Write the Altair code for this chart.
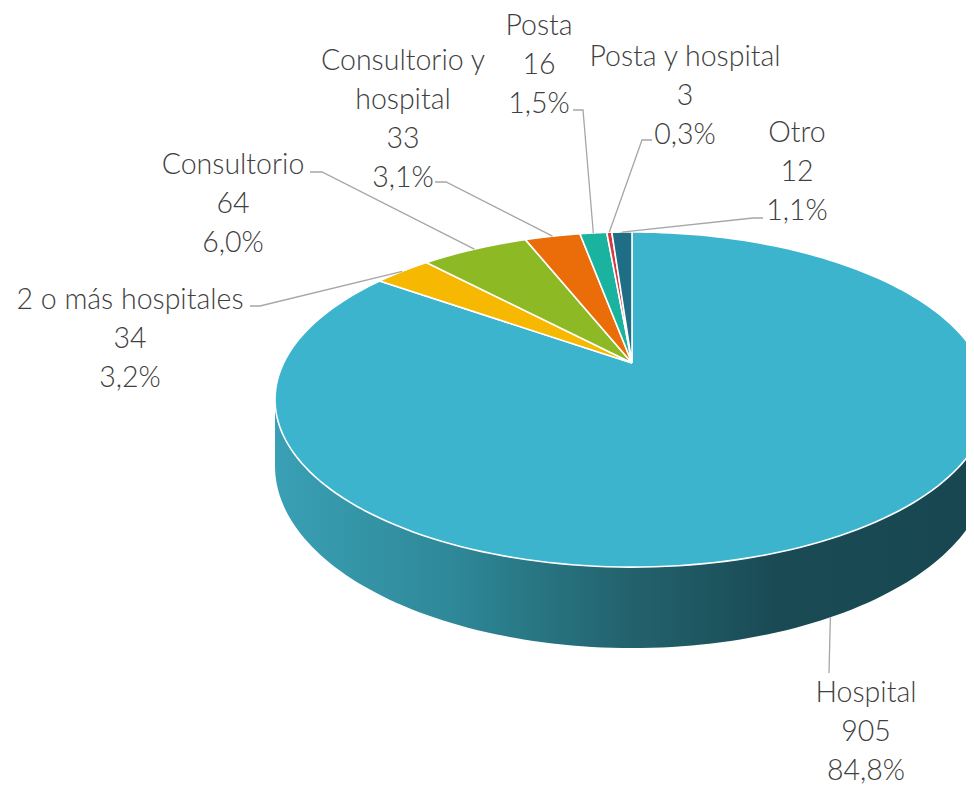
import math
import altair as alt
import pandas as pd

# ---------------- data ----------------
categories = ["Hospital", "2 o más hospitales", "Consultorio",
              "Consultorio y hospital", "Posta", "Posta y hospital", "Otro"]
counts = [905, 34, 64, 33, 16, 3, 12]
colors = ["#3DB4CE", "#F6B800", "#8CB924", "#EB6D0A", "#1AB39F", "#D9353F", "#1E6E85"]

# ---------------- layout (page pixels) ----------------
W, H = 958, 778
X0, Y0 = 8, 8
CX, CY = 632, 363          # projected pie centre
A, B, K = 348.4, 159.6, 0.218   # perspective ellipse parameters
D = 63.3                   # depth of the 3D wall
T0 = math.acos(-K)
T1 = 2 * math.pi - T0
N = 200

label_wrap = {"Consultorio y hospital": "Consultorio y\nhospital"}
label_first_line = {  # centre of the first text line (x, y)
    "Hospital": (866, 693),
    "2 o más hospitales": (130, 300),
    "Consultorio": (233, 165),
    "Consultorio y hospital": (403, 61),
    "Posta": (539, 26),
    "Posta y hospital": (685, 57),
    "Otro": (797, 133),
}
leader_anchor = {  # (x, y, stub_x)
    "Hospital": (829, 673, 829),
    "2 o más hospitales": (250, 306, 260),
    "Consultorio": (310, 172, 322),
    "Consultorio y hospital": (435, 182, 446),
    "Posta": (573, 110, 583),
    "Posta y hospital": (652, 140, 642),
    "Otro": (763, 218, 753),
}

total = sum(counts)
rows = []
for i, (c, v) in enumerate(zip(categories, counts)):
    pct = f"{v / total * 100:.1f}".replace(".", ",") + "%"
    name = label_wrap.get(c, c)
    rows.append({
        "cat": c, "value": v, "idx": i,
        "text": f"{name}\n{v}\n{pct}",
        "tx": label_first_line[c][0], "ty": label_first_line[c][1],
        "lx": leader_anchor[c][0], "ly": leader_anchor[c][1], "sx": leader_anchor[c][2],
    })
df = pd.DataFrame(rows)

xs = alt.Scale(domain=[X0, X0 + W], nice=False, zero=False)
ys = alt.Scale(domain=[Y0, Y0 + H], nice=False, zero=False, reverse=True)

base = (
    alt.Chart(df)
    .transform_joinaggregate(total="sum(value)")
    .transform_window(cum="sum(value)", sort=[alt.SortField("idx")], frame=[None, 0])
    .transform_calculate(
        a0="2*PI*(datum.cum - datum.value)/datum.total",
        a1="2*PI*datum.cum/datum.total",
    )
    .transform_calculate(am="(datum.a0 + datum.a1)/2")
)

def px(t):
    return f"{CX} + {A}*sin({t})/(1 + {K}*cos({t}))"

def py(t):
    return f"{CY} - {B}*cos({t})/(1 + {K}*cos({t}))"

# side wall
side = (
    base.transform_filter(f"datum.a1 > {T0} && datum.a0 < {T1}")
    .transform_calculate(s0=f"max(datum.a0, {T0})", s1=f"min(datum.a1, {T1})")
    .transform_calculate(seq="sequence(0, 121)")
    .transform_flatten(["seq"])
    .transform_calculate(t="datum.s0 + (datum.s1 - datum.s0)*datum.seq/120")
    .transform_calculate(
        x=px("datum.t"),
        y=py("datum.t"),
        y2=f"{py('datum.t')} + {D}/(1 + {K}*cos(datum.t))",
    )
    .mark_area(
        color=alt.Gradient(
            gradient="linear",
            stops=[
                alt.GradientStop(color="#3AA0B5", offset=0),
                alt.GradientStop(color="#2E8898", offset=0.25),
                alt.GradientStop(color="#23646F", offset=0.48),
                alt.GradientStop(color="#1A4B55", offset=0.7),
                alt.GradientStop(color="#174650", offset=1),
            ],
            x1=0, x2=1, y1=0, y2=0,
        )
    )
    .encode(
        x=alt.X("x:Q", scale=xs, axis=None),
        y=alt.Y("y:Q", scale=ys, axis=None),
        y2="y2:Q",
        detail="cat:N",
    )
)

# top face slices
top = (
    base.transform_calculate(seq=f"sequence(0, {N + 3})")
    .transform_flatten(["seq"])
    .transform_calculate(t=f"datum.a0 + (datum.a1 - datum.a0)*(datum.seq - 1)/{N}")
    .transform_calculate(
        x=f"(datum.seq == 0 || datum.seq == {N + 2}) ? {CX} : {px('datum.t')}",
        y=f"(datum.seq == 0 || datum.seq == {N + 2}) ? {CY} : {py('datum.t')}",
    )
    .mark_line(filled=True, stroke="white", strokeWidth=1.6, strokeJoin="round")
    .encode(
        x=alt.X("x:Q", scale=xs, axis=None),
        y=alt.Y("y:Q", scale=ys, axis=None),
        color=alt.Color("cat:N", scale=alt.Scale(domain=categories, range=colors), legend=None),
        order=alt.Order("seq:Q"),
    )
)

# leader lines
leaders = (
    base.transform_calculate(seq="sequence(0, 3)")
    .transform_flatten(["seq"])
    .transform_calculate(
        ex=px("datum.am"),
        ey=f"{py('datum.am')} + ((datum.am > {T0} && datum.am < {T1}) ? {D}/(1 + {K}*cos(datum.am)) : 0)",
    )
    .transform_calculate(
        x="datum.seq == 0 ? datum.lx : (datum.seq == 1 ? datum.sx : datum.ex)",
        y="datum.seq == 2 ? datum.ey : datum.ly",
    )
    .mark_line(color="#A6A6A6", strokeWidth=1.3)
    .encode(
        x=alt.X("x:Q", scale=xs, axis=None),
        y=alt.Y("y:Q", scale=ys, axis=None),
        detail="cat:N",
        order=alt.Order("seq:Q"),
    )
)

labels = (
    alt.Chart(df)
    .mark_text(font="Lato", fontSize=28.5, fontWeight=300, color="#404040", lineBreak="\n",
               lineHeight=39, align="center", baseline="middle")
    .encode(
        x=alt.X("tx:Q", scale=xs, axis=None),
        y=alt.Y("ty:Q", scale=ys, axis=None),
        text="text:N",
    )
)

chart = (
    alt.layer(side, top, leaders, labels)
    .properties(width=W, height=H, padding=0, autosize="none")
    .configure_view(strokeWidth=0)
)

chart.save("out.html", embed_options={"renderer": "svg", "actions": False})
